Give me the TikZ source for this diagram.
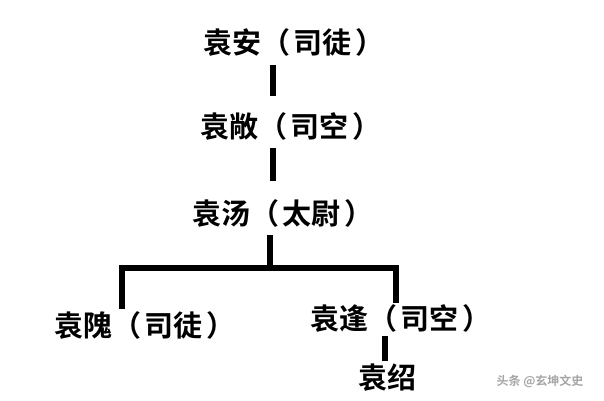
\documentclass[tikz,border=0pt]{standalone}
\usepackage{fontspec}
\newfontfamily\cjk{Noto Sans CJK SC Bold}
\newcommand{\gp}{\hspace{4pt}}
\begin{document}
\begin{tikzpicture}[x=1pt,y=-1pt,
  lbl/.style={font=\cjk\fontsize{29}{32}\selectfont, inner sep=0pt},
  ln/.style={line width=6pt, black}]
\fill[white] (0,0) rectangle (604,400);
\useasboundingbox (0,0) rectangle (604,400);
\node[lbl] (an) at (294,42) {袁安（\gp 司徒\gp ）};
\node[lbl] (chang) at (291,126) {袁敞（\gp 司空\gp ）};
\node[lbl] (tang) at (283,213) {袁汤（\gp 太尉\gp ）};
\node[lbl] (wei) at (145,325) {袁隗（\gp 司徒\gp ）};
\node[lbl] (feng) at (401,318) {袁逢（\gp 司空\gp ）};
\node[lbl] (shao) at (387,378) {袁绍};
\node[font=\cjk\fontsize{12}{14}\selectfont, text=gray!70] (wm) at (540,381) {头条 @玄坤文史};
\coordinate (a1) at (273,65); \coordinate (a2) at (273,96);
\coordinate (b1) at (273,148); \coordinate (b2) at (273,181);
\coordinate (c1) at (270,235); \coordinate (c2) at (270,268);
\coordinate (hl) at (122,268); \coordinate (hr) at (396,268);
\coordinate (l2) at (122,306); \coordinate (r2) at (396,300);
\coordinate (s1) at (385,336); \coordinate (s2) at (385,361);
\draw[ln] (a1) -- (a2);
\draw[ln] (b1) -- (b2);
\draw[ln] (c1) -- (c2);
\draw[ln,line cap=rect] (l2) -- (hl) -- (hr) -- (r2);
\draw[ln] (s1) -- (s2);
\end{tikzpicture}
\end{document}
